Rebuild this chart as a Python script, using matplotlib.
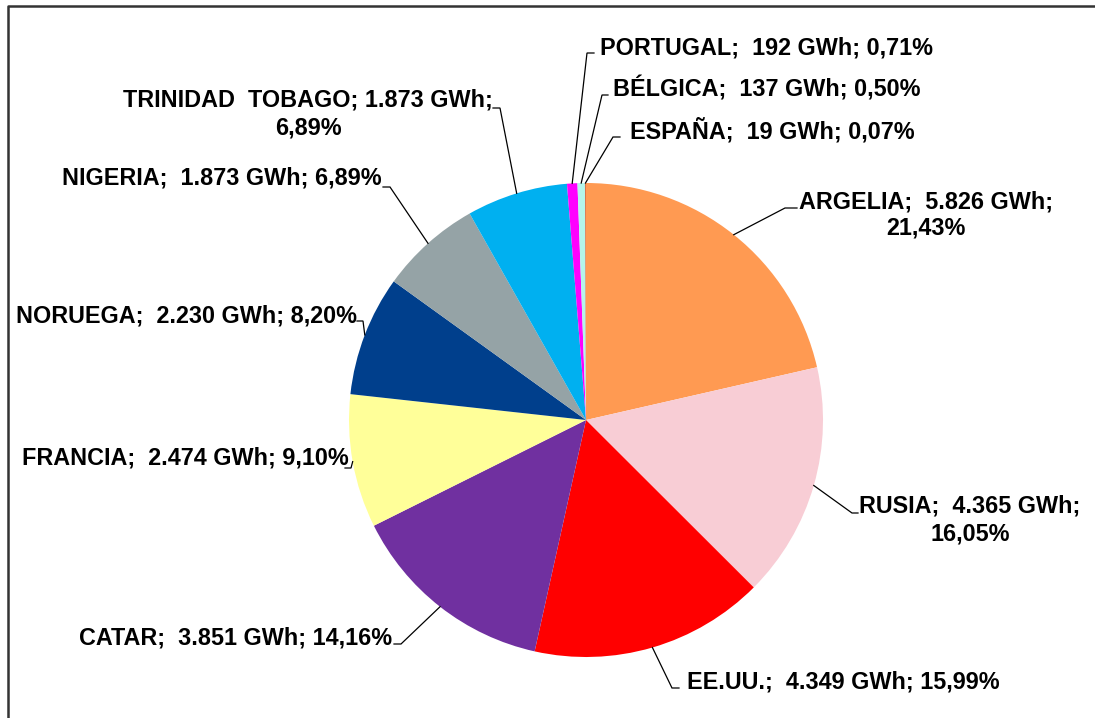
import numpy as np
import matplotlib
matplotlib.use("Agg")
import matplotlib.pyplot as plt

# Data
paises = ['ARGELIA', 'RUSIA', 'EE.UU.', 'CATAR', 'FRANCIA', 'NORUEGA',
          'NIGERIA', 'TRINIDAD  TOBAGO', 'PORTUGAL', 'BÉLGICA', 'ESPAÑA']
gwh = [5826, 4365, 4349, 3851, 2474, 2230, 1873, 1873, 192, 137, 19]
# percentages as printed on the chart
pct = [21.43, 16.05, 15.99, 14.16, 9.10, 8.20, 6.89, 6.89, 0.71, 0.50, 0.07]
colores = ['#FF9A52', '#F8CDD5', '#FF0000', '#7030A0', '#FFFF99', '#003F8C',
           '#95A3A6', '#00B0F0', '#FF00FF', '#B4F5EA', '#D9734A']


def fmt_miles(v):
    return f"{v:,}".replace(',', '.')


def fmt_pct(v):
    return f"{v:.2f}".replace('.', ',') + '%'


etiquetas = []
for p, v, pc in zip(paises, gwh, pct):
    sep = '; ' if p.startswith('TRINIDAD') else ';  '
    etiquetas.append(p + sep + fmt_miles(v) + ' GWh; ' + fmt_pct(pc))

# layout of labels (pixel coords, y down): x, baseline y, ha, wrap, leader elbow x, elbow y, end x
layout = [
    (926, 208, 'center', True, 785, 208, 797),
    (970, 513, 'center', True, 852, 513, 858),
    (687, 688, 'left', False, 672, 688, 679),
    (392, 644, 'right', False, 401, 644, 394),
    (349, 465, 'right', False, 351, 468, 345),
    (357, 322, 'right', False, 363, 321, 357),
    (382, 185, 'right', False, 390, 187, 383),
    (308, 107, 'center', True, 500, 108, 493),
    (600, 55, 'left', False, 587, 53, 594),
    (613, 96, 'left', False, 602, 95, 608),
    (630, 138, 'left', False, 613, 137, 620),
]

W, H = 1095, 718
fig = plt.figure(figsize=(W / 100, H / 100), dpi=100)
ax = fig.add_axes([0, 0, 1, 1])

cx, cy, r = 586, 420, 237
wedges, _ = ax.pie(gwh, colors=colores, startangle=-90, counterclock=True,
                   center=(cx, cy), radius=r, wedgeprops=dict(linewidth=0))
ax.set_xlim(0, W)
ax.set_ylim(H, 0)
ax.set_aspect('equal')
ax.axis('off')

font = dict(family='Liberation Sans', weight='bold', size=16.8, color='black')

for w, txt, (tx, ty, ha, wrap, ex, ey, hx) in zip(wedges, etiquetas, layout):
    lines = txt.replace('GWh; ', 'GWh;\n').split('\n') if wrap else [txt]
    for i, ln in enumerate(lines):
        ax.text(tx, ty + i * 27, ln, ha=ha, va='baseline', **font)
    ang = np.deg2rad((w.theta1 + w.theta2) / 2)
    px = cx + r * np.cos(ang)
    py = cy + r * np.sin(ang)
    ax.plot([px, ex, hx], [py, ey, ey], color='black', lw=0.9,
            solid_joinstyle='miter')

# outer frame
ax.plot([8, 8, W + 5], [H + 5, 6, 6], color='#333333', lw=1.8, clip_on=False)

fig.savefig('out.png', dpi=100)
